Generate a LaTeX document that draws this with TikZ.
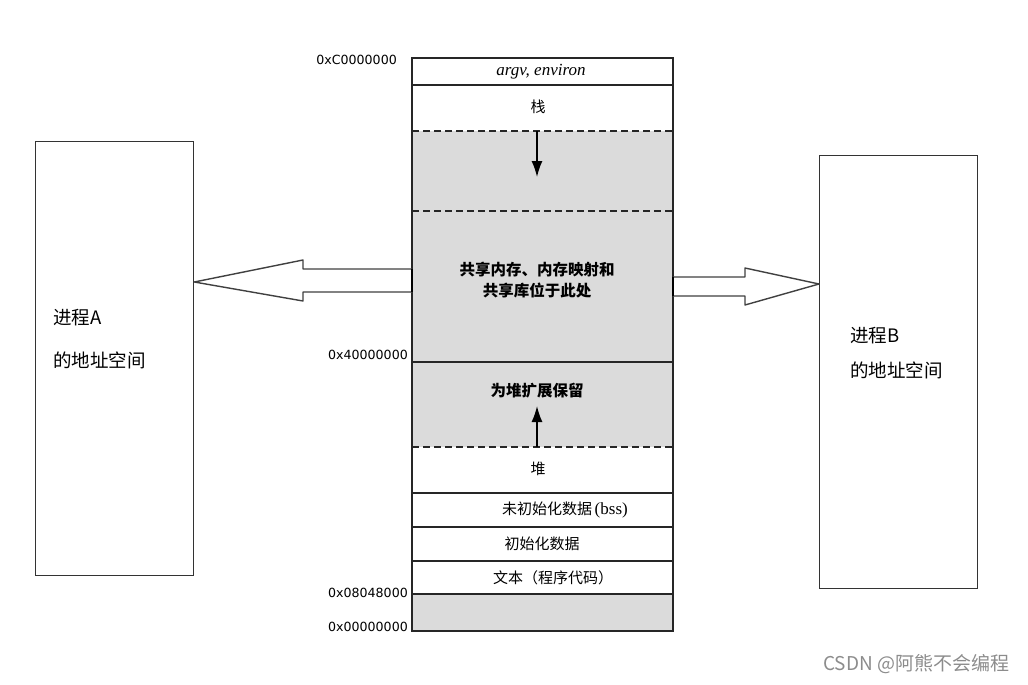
\documentclass[tikz,border=0pt]{standalone}
\usepackage{fontspec}
\usetikzlibrary{arrows.meta}
\setmainfont{Liberation Serif}
\newfontfamily\cjk{Noto Sans CJK SC}
\newfontfamily\addrfont{DejaVu Sans}
\begin{document}
\begin{tikzpicture}[x=1pt,y=-1pt,
  seg/.style={anchor=north west, minimum width=261pt, inner sep=0pt, outer sep=0pt},
  shade/.style={fill=black!14},
  lbl/.style={font=\cjk\fontsize{15}{18}\selectfont, inner sep=0pt},
  blbl/.style={font=\cjk\bfseries\fontsize{15.5}{18}\selectfont, inner sep=0pt},
  addr/.style={font=\addrfont\fontsize{12.6}{14}\selectfont, anchor=east, inner sep=0pt},
  proc/.style={draw=black!80, line width=1.3pt, anchor=north west, inner sep=0pt},
  plbl/.style={font=\cjk\fontsize{18.5}{22}\selectfont, anchor=west, inner sep=0pt},
  fat/.style={draw=black!75, line width=1.4pt, fill=white, line join=round},
  bd/.style={line width=1.2pt, draw=black!85},
  dsh/.style={line width=1.3pt, draw=black!85, dash pattern=on 7pt off 4pt},
  growarrow/.style={line width=1.5pt, -{Latex[length=16pt,width=11pt]}}
]
\useasboundingbox (0,0) rectangle (1028,685);
% column segments
\node[seg, minimum height=27pt] (argv) at (412,58) {};
\node[seg, minimum height=46pt] (stack) at (412,85) {};
\node[seg, shade, minimum height=80pt] (gap) at (412,131) {};
\node[seg, shade, minimum height=151pt] (shared) at (412,211) {};
\node[seg, shade, minimum height=85pt] (reserve) at (412,362) {};
\node[seg, minimum height=46pt] (heap) at (412,447) {};
\node[seg, minimum height=34pt] (bss) at (412,493) {};
\node[seg, minimum height=34pt] (data) at (412,527) {};
\node[seg, minimum height=33pt] (text) at (412,561) {};
\node[seg, shade, minimum height=37pt] (low) at (412,594) {};
% boundaries
\draw[bd] (argv.south west) -- (argv.south east);
\draw[dsh] (stack.south west) -- (stack.south east);
\draw[dsh] (gap.south west) -- (gap.south east);
\draw[bd] (shared.south west) -- (shared.south east);
\draw[dsh] (reserve.south west) -- (reserve.south east);
\draw[bd] (heap.south west) -- (heap.south east);
\draw[bd] (bss.south west) -- (bss.south east);
\draw[bd] (data.south west) -- (data.south east);
\draw[bd] (text.south west) -- (text.south east);
\draw[bd] (argv.north west) rectangle (low.south east);
% labels
\node[inner sep=0pt, font=\itshape\fontsize{17}{18}\selectfont] at (541,72) {argv, environ};
\node[lbl] (stacklbl) at (538,107) {栈};
\node[blbl, align=center] at (537,280) {共享内存、内存映射和\\[3pt]共享库位于此处};
\node[blbl] at (537,391) {为堆扩展保留};
\node[lbl] at (538,469) {堆};
\node[lbl] at (565,510) {未初始化数据\,{\rmfamily\fontsize{17}{18}\selectfont(bss)}};
\node[lbl] at (542,544) {初始化数据};
\node[lbl] at (553,578) {文本（程序代码）};
% growth arrows
\coordinate (sd) at (537,177);
\coordinate (hu) at (537,406);
\draw[growarrow] (gap.north -| sd) -- (sd);
\draw[growarrow] (reserve.south -| hu) -- (hu);
% addresses
\node[addr] at (397,60) {0xC0000000};
\node[addr] at (408,355) {0x40000000};
\node[addr] at (408,593) {0x08048000};
\node[addr] at (408,627) {0x00000000};
% process boxes
\node[proc, minimum width=158pt, minimum height=434pt] (pa) at (35,141) {};
\node[proc, minimum width=158pt, minimum height=433pt] (pb) at (819,155) {};
\node[plbl] at (53,318) {进程A};
\node[plbl] at (53,360) {的地址空间};
\node[plbl] at (850,336) {进程B};
\node[plbl] at (850,370) {的地址空间};
% fat arrows
\draw[fat] (shared.west |- 0,269) -- (303,269) -- (303,260) -- (pa.east |- 0,282)
  -- (303,301) -- (303,292) -- (shared.west |- 0,292);
\draw[fat] (shared.east |- 0,277) -- (745,277) -- (745,268) -- (pb.west |- 0,284)
  -- (745,305) -- (745,296) -- (shared.east |- 0,296);
\draw[line width=2.2pt] (shared.west |- 0,269) -- (shared.west |- 0,292);
\draw[line width=2.2pt] (shared.east |- 0,277) -- (shared.east |- 0,296);
% watermark
\node[inner sep=0pt, anchor=west, text=black!45, font=\cjk\fontsize{19}{21}\selectfont] at (823,664) {CSDN @阿熊不会编程};
\end{tikzpicture}
\end{document}
